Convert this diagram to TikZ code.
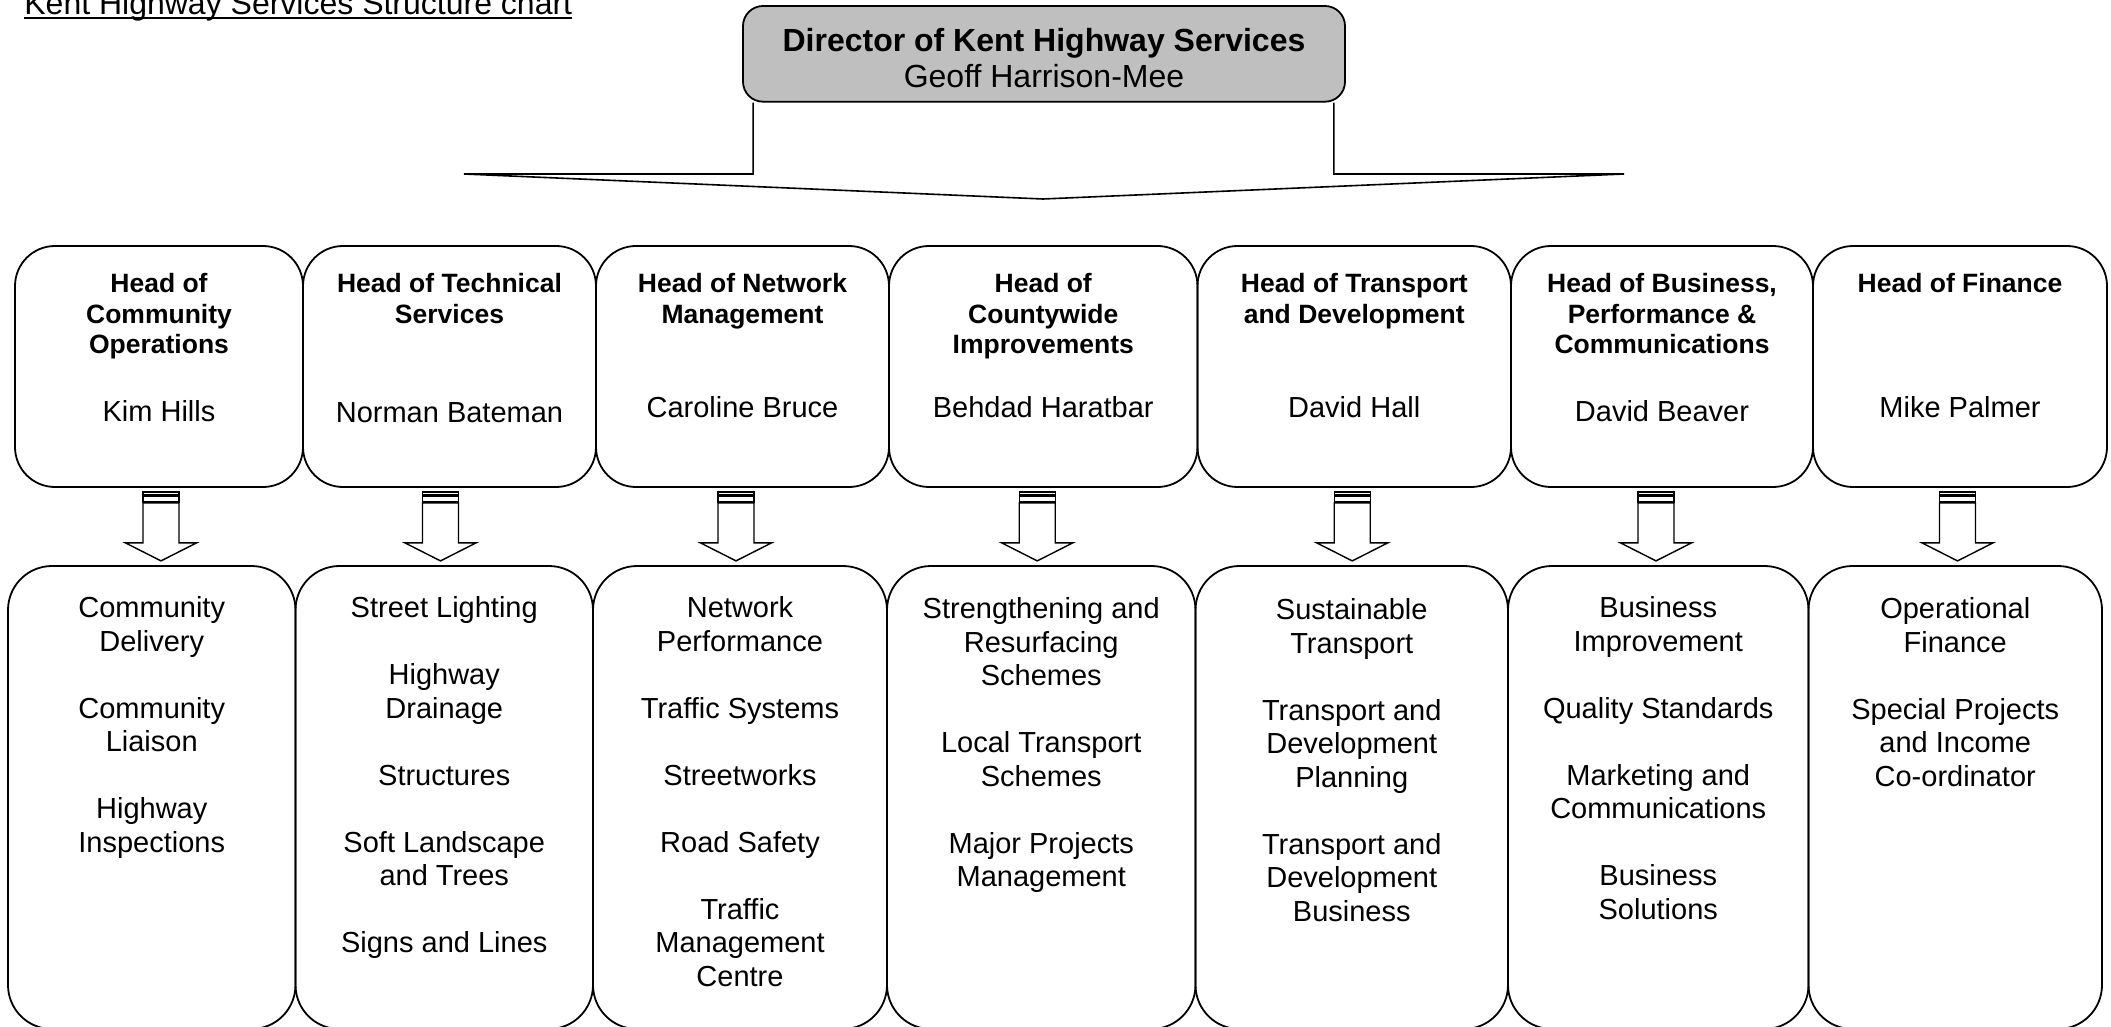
\documentclass[tikz,border=0pt]{standalone}
\usepackage{fontspec}
\setmainfont{Liberation Sans}
\usetikzlibrary{positioning}
\newcommand{\titleline}[1]{\setbox0\hbox{#1}\rlap{\rule[-2.25pt]{\wd0}{1.25pt}}\box0}

\begin{document}
\begin{tikzpicture}[x=0.5pt, y=-0.5pt,
  dirbox/.style={draw, line width=0.9pt, rounded corners=10pt, fill=black!25, align=center, font=\fontsize{16}{18}\selectfont},
  headbox/.style={draw, line width=0.9pt, rounded corners=20pt, minimum height=120.5pt},
  unitbox/.style={draw, line width=0.9pt, rounded corners=22pt, minimum height=231.5pt},
  headtext/.style={align=center, inner sep=0pt, font=\bfseries\fontsize{13.25}{15.2}\selectfont},
  nametext/.style={inner sep=0pt, font=\fontsize{14.5}{16.75}\selectfont},
  unittext/.style={align=center, inner sep=0pt, font=\fontsize{14.5}{16.75}\selectfont},
  stripedarrow/.pic={
    \draw[line width=0.7pt, fill=white] (-18,0) rectangle (18,3.2);
    \draw[line width=0.7pt, fill=white] (-18,4.6) rectangle (18,10);
    \draw[line width=0.7pt, fill=white] (-18,11) -- (-18,51) -- (-35.5,51) -- (0,69) -- (35.5,51) -- (18,51) -- (18,11) -- cycle;
  }]
\def \gap {16.75pt}
\useasboundingbox (0,0) rectangle (2111,1027);
\clip (0,0) rectangle (2111,1027);

\node[anchor=base west, inner sep=0pt, font=\fontsize{16}{19}\selectfont] (title) at (24,15) {\titleline{Kent Highway Services Structure chart}};

\node[dirbox, minimum width=301pt, minimum height=47.85pt] (dir) at (1044,53.85) {\rule{0pt}{16pt}\textbf{Director of Kent Highway Services}\\Geoff Harrison-Mee};

\coordinate (fanL) at (464,174);
\coordinate (fanR) at (1624,174);
\coordinate (fanTip) at (1043,199);
\draw[line width=0.8pt] ([xshift=5.5pt]dir.south west) |- (fanL) -- (fanTip) -- (fanR) -| ([xshift=-6pt]dir.south east);

\node[headbox, minimum width=144pt] (h1) at (159,366.5) {};
\node[headbox, minimum width=146.5pt] (h2) at (449.5,366.5) {};
\node[headbox, minimum width=146.5pt] (h3) at (742.5,366.5) {};
\node[headbox, minimum width=154.25pt] (h4) at (1043.25,366.5) {};
\node[headbox, minimum width=156.75pt] (h5) at (1354.25,366.5) {};
\node[headbox, minimum width=151pt] (h6) at (1662,366.5) {};
\node[headbox, minimum width=147pt] (h7) at (1960,366.5) {};

\node[headtext, below=14pt of h1.north] (t1) {Head of\\Community\\Operations};
\node[headtext, below=14pt of h2.north] (t2) {Head of Technical\\Services};
\node[headtext, below=14pt of h3.north] (t3) {Head of Network\\Management};
\node[headtext, below=14pt of h4.north] (t4) {Head of\\Countywide\\Improvements};
\node[headtext, below=14pt of h5.north] (t5) {Head of Transport\\and Development};
\node[headtext, below=14pt of h6.north] (t6) {Head of Business,\\Performance \&\\Communications};
\node[headtext, below=14pt of h7.north] (t7) {Head of Finance};

\node[nametext, below=77.5pt of h1.north] (p1) {Kim Hills};
\node[nametext, below=78.5pt of h2.north] (p2) {Norman Bateman};
\node[nametext, below=75.5pt of h3.north] (p3) {Caroline Bruce};
\node[nametext, below=75.5pt of h4.north] (p4) {Behdad Haratbar};
\node[nametext, below=75.5pt of h5.north] (p5) {David Hall};
\node[nametext, below=77.5pt of h6.north] (p6) {David Beaver};
\node[nametext, below=75.5pt of h7.north] (p7) {Mike Palmer};

\node[unitbox, minimum width=143.75pt] (u1) at (151.75,797.5) {};
\node[unitbox, minimum width=148.75pt] (u2) at (444.25,797.5) {};
\node[unitbox, minimum width=147pt] (u3) at (740,797.5) {};
\node[unitbox, minimum width=154.25pt] (u4) at (1041.25,797.5) {};
\node[unitbox, minimum width=156.25pt] (u5) at (1351.75,797.5) {};
\node[unitbox, minimum width=150.25pt] (u6) at (1658.25,797.5) {};
\node[unitbox, minimum width=146.75pt] (u7) at (1955.25,797.5) {};

\node[unittext, below=15.5pt of u1.north] (l1) {Community\\Delivery\\[\gap]Community\\Liaison\\[\gap]Highway\\Inspections};
\node[unittext, below=15.5pt of u2.north] (l2) {Street Lighting\\[\gap]Highway\\Drainage\\[\gap]Structures\\[\gap]Soft Landscape\\and Trees\\[\gap]Signs and Lines};
\node[unittext, below=15.5pt of u3.north] (l3) {Network\\Performance\\[\gap]Traffic Systems\\[\gap]Streetworks\\[\gap]Road Safety\\[\gap]Traffic\\Management\\Centre};
\node[unittext, below=16pt of u4.north] (l4) {Strengthening and\\Resurfacing\\Schemes\\[\gap]Local Transport\\Schemes\\[\gap]Major Projects\\Management};
\node[unittext, below=16.5pt of u5.north] (l5) {Sustainable\\Transport\\[\gap]Transport and\\Development\\Planning\\[\gap]Transport and\\Development\\Business};
\node[unittext, below=15.5pt of u6.north] (l6) {Business\\Improvement\\[\gap]Quality Standards\\[\gap]Marketing and\\Communications\\[\gap]Business\\Solutions};
\node[unittext, below=16pt of u7.north] (l7) {Operational\\Finance\\[\gap]Special Projects\\and Income\\Co-ordinator};

\pic at ([xshift=1pt,yshift=-2pt]h1.south) {stripedarrow};
\pic at ([xshift=-4.5pt,yshift=-2pt]h2.south) {stripedarrow};
\pic at ([xshift=-3.25pt,yshift=-2pt]h3.south) {stripedarrow};
\pic at ([xshift=-3pt,yshift=-2pt]h4.south) {stripedarrow};
\pic at ([xshift=-1pt,yshift=-2pt]h5.south) {stripedarrow};
\pic at ([xshift=-3pt,yshift=-2pt]h6.south) {stripedarrow};
\pic at ([xshift=-1.25pt,yshift=-2pt]h7.south) {stripedarrow};

\end{tikzpicture}
\end{document}
